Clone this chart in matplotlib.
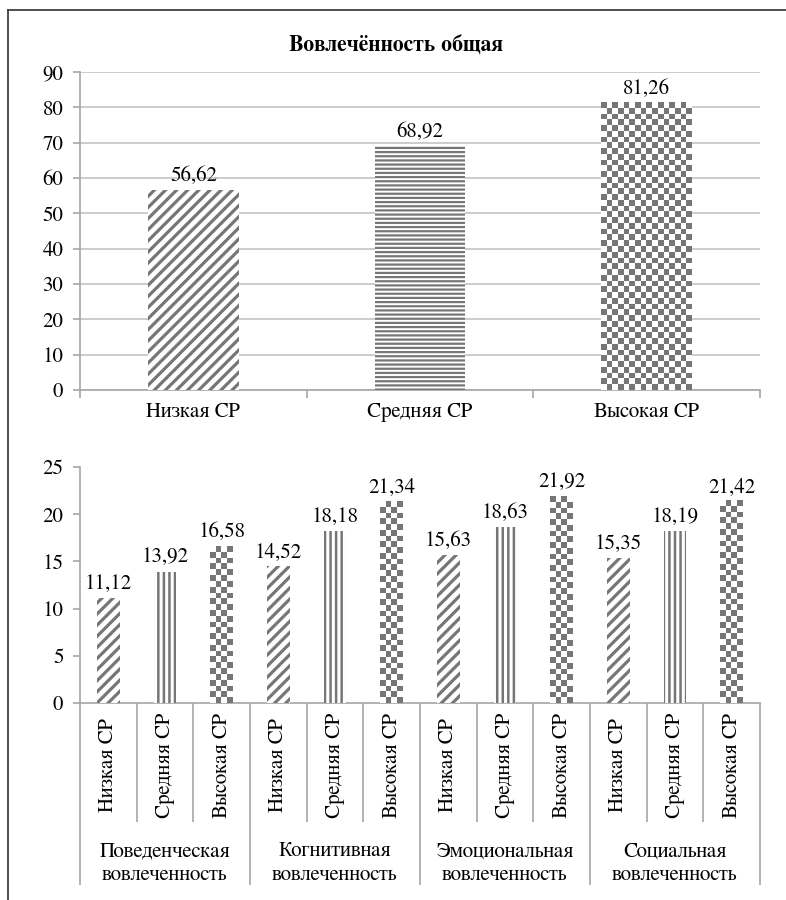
import matplotlib
matplotlib.use('Agg')
import matplotlib.pyplot as plt
import numpy as np
from matplotlib.colors import ListedColormap
from matplotlib.lines import Line2D
from matplotlib.transforms import blended_transform_factory

# FreeSerif is a Times-like face that also covers Cyrillic
plt.rcParams['font.family'] = ['FreeSerif', 'Liberation Serif', 'DejaVu Serif']
plt.rcParams['font.size'] = 15

levels = ['Низкая СР', 'Средняя СР', 'Высокая СР']
total = [56.62, 68.92, 81.26]

components = ['Поведенческая\nвовлеченность', 'Когнитивная\nвовлеченность',
              'Эмоциональная\nвовлеченность', 'Социальная\nвовлеченность']
low = [11.12, 14.52, 15.63, 15.35]
mid = [13.92, 18.18, 18.63, 18.19]
high = [16.58, 21.34, 21.92, 21.42]

GRAY = '#767676'
AXIS = '#a6a6a6'
GRID = '#c4c4c4'


def fmt(v):
    return f'{v:.2f}'.replace('.', ',')


def hatched_bar(ax, x, h, width, hatch, hlw):
    bar = ax.bar(x, h, width=width, color='white', edgecolor=GRAY,
                 linewidth=0, hatch=hatch, zorder=3)[0]
    if hasattr(bar, 'set_hatch_linewidth'):
        bar.set_hatch_linewidth(hlw)
    return bar


def checker_bar(ax, x, h, width, cell=5.7):
    bar = ax.bar(x, h, width=width, color='none', linewidth=0, zorder=3)[0]
    x0, y0 = bar.get_x(), bar.get_y()
    w, hh = bar.get_width(), bar.get_height()
    p0 = ax.transData.transform((x0, y0))
    p1 = ax.transData.transform((x0 + w, y0 + hh))
    nx = max(1, int(round((p1[0] - p0[0]) / cell)))
    ny = max(1, int(round((p1[1] - p0[1]) / cell)))
    img = np.indices((ny, nx)).sum(axis=0) % 2
    ax.imshow(img, cmap=ListedColormap(['white', GRAY]), origin='lower',
              extent=(x0, x0 + w, y0, y0 + hh), aspect='auto',
              interpolation='nearest', zorder=3)
    return bar


def style_axes(ax):
    for s in ('top', 'right'):
        ax.spines[s].set_visible(False)
    for s in ('left', 'bottom'):
        ax.spines[s].set_color(AXIS)
        ax.spines[s].set_linewidth(1.2)
    ax.tick_params(axis='y', length=5, width=1.2, color=AXIS, pad=7)


fig = plt.figure(figsize=(7.86, 9), dpi=100)

# outer frame (only top and left edges are visible)
fig.add_artist(Line2D([8 / 786, 1], [1 - 10 / 900] * 2, color='#404040', lw=1.3))
fig.add_artist(Line2D([8 / 786] * 2, [0, 1 - 10 / 900], color='#404040', lw=1.3))

# ---- top chart: overall engagement ----
ax1 = fig.add_axes([80 / 786, 510 / 900, 680 / 786, 318 / 900])
ax1.set_xlim(-0.5, 2.5)
ax1.set_ylim(0, 90)
style_axes(ax1)
ax1.set_yticks(range(0, 91, 10))
ax1.grid(axis='y', color=GRID, lw=1.2, zorder=0)

xs = np.arange(len(levels))
hatched_bar(ax1, xs[0], total[0], 0.4, '///', 2.3)
hatched_bar(ax1, xs[1], total[1], 0.4, '----', 1.6)
checker_bar(ax1, xs[2], total[2], 0.4)
ax1.set_xlim(-0.5, 2.5)
ax1.set_ylim(0, 90)
for x, v in zip(xs, total):
    ax1.annotate(fmt(v), (x, v), xytext=(0, 3), textcoords='offset points',
                 ha='center', va='bottom')

ax1.set_xticks(np.arange(-0.5, 3, 1))
ax1.set_xticklabels([])
ax1.set_xticks(xs, minor=True)
ax1.set_xticklabels(levels, minor=True)
ax1.tick_params(axis='x', which='major', length=6, width=1.2, color=AXIS)
ax1.tick_params(axis='x', which='minor', length=0, pad=9)

fig.text(396 / 786, 1 - 45 / 900, 'Вовлечённость общая', ha='center',
         va='center', fontweight='bold', fontsize=15.5)

# ---- bottom chart: engagement components ----
ax2 = fig.add_axes([80 / 786, 197 / 900, 680 / 786, 236 / 900])
n = len(components) * 3
ax2.set_xlim(-0.5, n - 0.5)
ax2.set_ylim(0, 25)
style_axes(ax2)
ax2.set_yticks(range(0, 26, 5))

for g in range(len(components)):
    hatched_bar(ax2, 3 * g, low[g], 0.4, '///', 2.3)
    hatched_bar(ax2, 3 * g + 1, mid[g], 0.4, '|||', 1.8)
    checker_bar(ax2, 3 * g + 2, high[g], 0.4)
ax2.set_xlim(-0.5, n - 0.5)
ax2.set_ylim(0, 25)

vals = [v for g in range(len(components)) for v in (low[g], mid[g], high[g])]
for x, v in enumerate(vals):
    ax2.annotate(fmt(v), (x, v), xytext=(0, 3), textcoords='offset points',
                 ha='center', va='bottom')

ax2.set_xticks(np.arange(-0.5, n, 3))
ax2.set_xticklabels([])
inner = [k - 0.5 for k in range(n + 1) if k % 3 != 0]
ax2.set_xticks(inner, minor=True)
ax2.tick_params(axis='x', which='major', length=131, width=1.2, color=AXIS)
ax2.tick_params(axis='x', which='minor', length=86, width=1.2, color=AXIS)

trans = blended_transform_factory(ax2.transData, ax2.transAxes)
for x in range(n):
    ax2.text(x, -62 / 236, levels[x % 3], rotation=90, ha='center',
             va='center', transform=trans)
for g, name in enumerate(components):
    ax2.text(3 * g + 1, -160 / 236, name, ha='center', va='center',
             transform=trans, linespacing=1.25)

fig.savefig('out.png', dpi=100)
